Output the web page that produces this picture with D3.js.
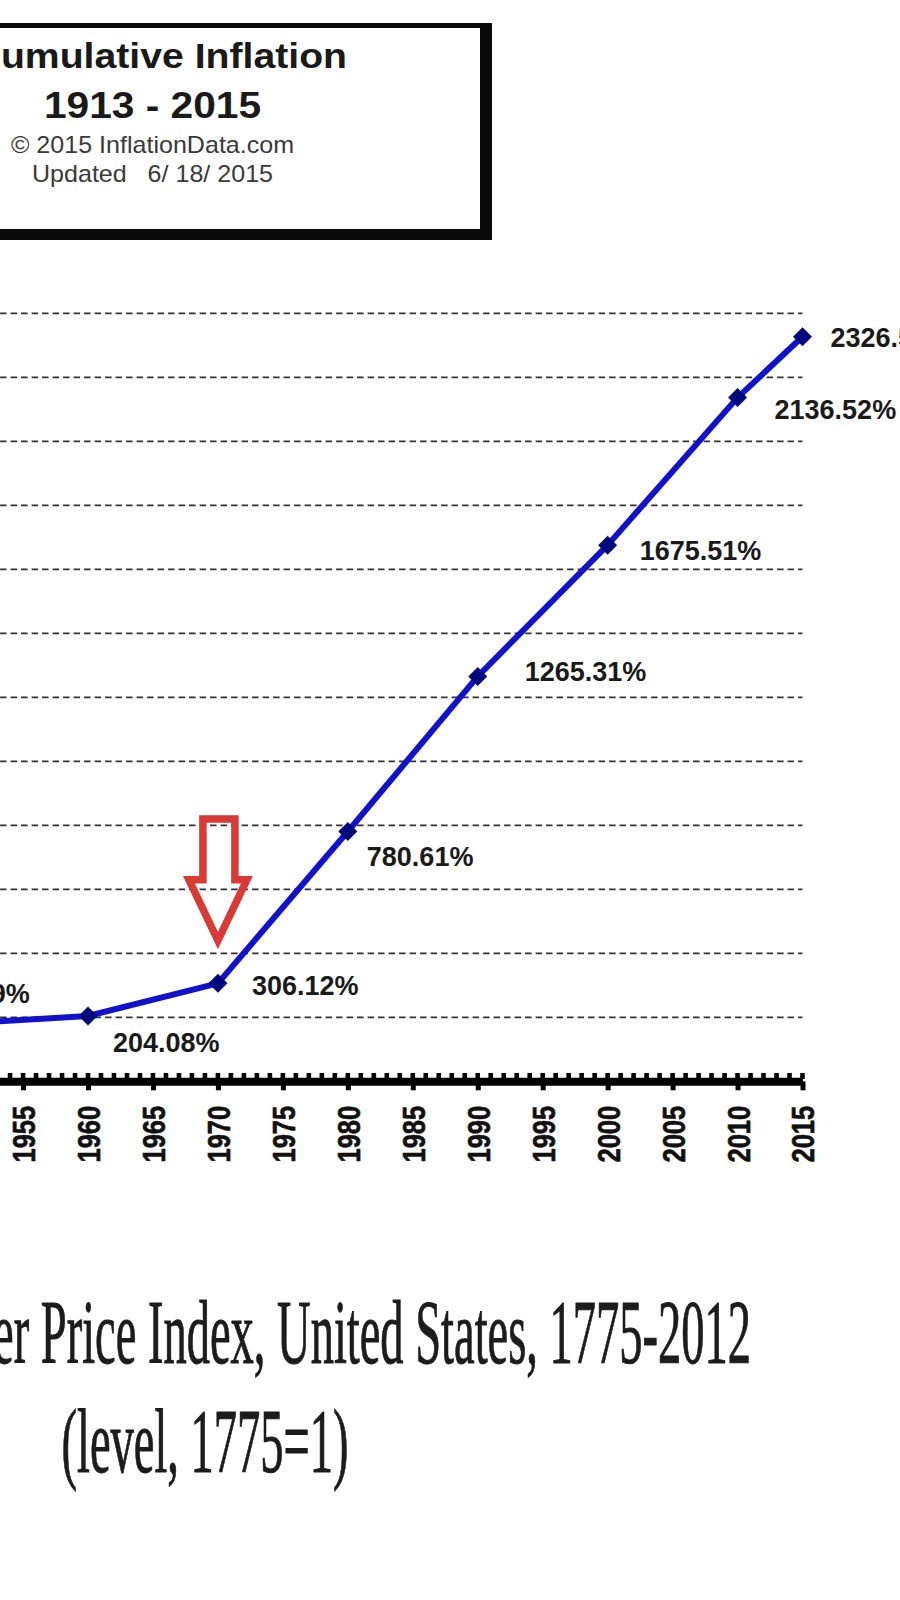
<!DOCTYPE html>
<html>
<head>
<meta charset="utf-8">
<script src="https://cdn.jsdelivr.net/npm/d3@7"></script>
<style>
  html, body { margin: 0; padding: 0; background: #fff; }
  svg { display: block; }
</style>
</head>
<body>
<svg id="chart" width="900" height="1600"></svg>
<script>
// ---------------- data ----------------
const years  = [1950, 1960, 1970, 1980, 1990, 2000, 2010, 2015];
const values = [179.59, 204.08, 306.12, 780.61, 1265.31, 1675.51, 2136.52, 2326.53];
const tickYears = [1950, 1955, 1960, 1965, 1970, 1975, 1980, 1985, 1990, 1995, 2000, 2005, 2010, 2015];
const gridValues = [200, 400, 600, 800, 1000, 1200, 1400, 1600, 1800, 2000, 2200, 2400];
const titleLines = ["Cumulative Inflation", "1913 - 2015"];
const creditLines = ["\u00A9 2015 InflationData.com", "Updated   6/ 18/ 2015"];
const captionLines = ["Consumer Price Index, United States, 1775-2012", "(level, 1775=1)"];
const arrowYear = 1970, arrowTopValue = 820, arrowShoulderValue = 630, arrowTipValue = 440;

// label offsets (layout only)
const labelDx = [-35, 25, 34, 19, 47, 32, 37, 28];
const labelDy = [-31, 26, 2, 25, -5, 5, 12, 0];

// ---------------- setup ----------------
const svg = d3.select("#chart");
const sans = "'Liberation Sans', Arial, Helvetica, sans-serif";
const serif = "'Liberation Serif', 'Times New Roman', serif";

svg.append("rect").attr("width", 900).attr("height", 1600).attr("fill", "#fff");

const x = d3.scaleLinear().domain([1950, 2015]).range([-41.9, 802.5]);
const y = d3.scaleLinear().domain([0, 2400]).range([1081.3, 313.3]);

// ---------------- title box ----------------
const box = svg.append("g");
box.append("rect").attr("x", -20).attr("y", 23).attr("width", 512).attr("height", 217).attr("fill", "#0a0a0a");
box.append("rect").attr("x", -20).attr("y", 28).attr("width", 500).attr("height", 201).attr("fill", "#fff");

box.append("text")
  .attr("transform", "translate(347,68) scale(1.12,1)")
  .attr("text-anchor", "end")
  .style("font-family", sans).style("font-weight", "bold").style("font-size", "35px")
  .attr("fill", "#1a1a1a")
  .text(titleLines[0]);
box.append("text")
  .attr("transform", "translate(152.5,118) scale(1.1,1)")
  .attr("text-anchor", "middle")
  .style("font-family", sans).style("font-weight", "bold").style("font-size", "37px")
  .attr("fill", "#1a1a1a")
  .text(titleLines[1]);
box.selectAll("text.credit").data(creditLines).enter().append("text")
  .attr("class", "credit")
  .attr("transform", (d, i) => `translate(152.5,${i === 0 ? 152.5 : 182}) scale(1.09,1)`)
  .attr("text-anchor", "middle")
  .style("font-family", sans).style("font-size", "23px").style("white-space", "pre")
  .attr("fill", "#3a3a3a")
  .text(d => d);

// ---------------- grid ----------------
const plot = svg.append("g");
plot.selectAll("line.grid").data(gridValues).enter().append("line")
  .attr("class", "grid")
  .attr("x1", x(1950)).attr("x2", x(2015))
  .attr("y1", d => y(d)).attr("y2", d => y(d))
  .attr("stroke", "#333").attr("stroke-width", 1.8)
  .attr("stroke-dasharray", "6.5,4");

// ---------------- x axis ----------------
const axisG = plot.append("g").attr("transform", `translate(0,${y(0)})`);
axisG.call(d3.axisBottom(x).tickValues(tickYears).tickFormat(d3.format("d")).tickSize(9).tickSizeOuter(0));
axisG.select(".domain").attr("stroke", "#000").attr("stroke-width", 8);
axisG.selectAll(".tick line").attr("stroke", "#000").attr("stroke-width", 5);
axisG.selectAll(".tick text")
  .attr("transform", "rotate(-90) scale(1,1.25)")
  .attr("x", -24.5).attr("y", 0).attr("dy", "0.36em")
  .style("text-anchor", "end")
  .style("font-family", sans).style("font-weight", "bold").style("font-size", "25.5px")
  .attr("fill", "#111").attr("stroke", "#111").attr("stroke-width", 0.5);
// minor (yearly) ticks
const minorYears = d3.range(1950, 2016);
axisG.selectAll("rect.minor").data(minorYears).enter().append("rect")
  .attr("class", "minor")
  .attr("x", d => x(d) - 2.3).attr("width", 4.6)
  .attr("y", -8.3).attr("height", 6)
  .attr("fill", "#000");

// ---------------- arrow annotation ----------------
const ax = x(arrowYear);
const arrowPts = [
  [ax - 15, y(arrowTopValue)], [ax + 17, y(arrowTopValue)],
  [ax + 17, y(arrowShoulderValue)], [ax + 29, y(arrowShoulderValue)],
  [ax, y(arrowTipValue)],
  [ax - 29, y(arrowShoulderValue)], [ax - 15, y(arrowShoulderValue)]
];
plot.append("path")
  .attr("d", d3.line()(arrowPts) + "Z")
  .attr("fill", "none").attr("stroke", "#d83a36").attr("stroke-width", 7.5)
  .attr("stroke-linejoin", "miter");

// ---------------- line + markers ----------------
const pts = years.map((yr, i) => ({ yr, v: values[i], i }));
plot.append("path")
  .datum(pts)
  .attr("d", d3.line().x(d => x(d.yr)).y(d => y(d.v)))
  .attr("fill", "none").attr("stroke", "#1212cc").attr("stroke-width", 6)
  .attr("stroke-linejoin", "round");

const r = 9.5;
plot.selectAll("path.marker").data(pts).enter().append("path")
  .attr("class", "marker")
  .attr("transform", d => `translate(${x(d.yr)},${y(d.v)})`)
  .attr("d", `M0,${-r}L${r},0L0,${r}L${-r},0Z`)
  .attr("fill", "#00087a");

plot.selectAll("text.val").data(pts).enter().append("text")
  .attr("class", "val")
  .attr("x", d => x(d.yr) + labelDx[d.i])
  .attr("y", d => y(d.v) + labelDy[d.i])
  .attr("dy", "0.36em")
  .style("font-family", sans).style("font-weight", "bold").style("font-size", "27px")
  .attr("fill", "#1a1a1a")
  .text(d => d3.format(".2f")(d.v) + "%");

// ---------------- caption ----------------
svg.append("text")
  .attr("transform", "translate(751,1363) scale(1,1.95)")
  .attr("text-anchor", "end")
  .style("font-family", serif).style("font-size", "46.5px")
  .attr("fill", "#1c1c1c").attr("stroke", "#1c1c1c").attr("stroke-width", 0.5)
  .text(captionLines[0]);
svg.append("text")
  .attr("transform", "translate(205,1472) scale(1,1.95)")
  .attr("text-anchor", "middle")
  .style("font-family", serif).style("font-size", "46.5px")
  .attr("fill", "#1c1c1c").attr("stroke", "#1c1c1c").attr("stroke-width", 0.5)
  .text(captionLines[1]);
</script>
</body>
</html>
